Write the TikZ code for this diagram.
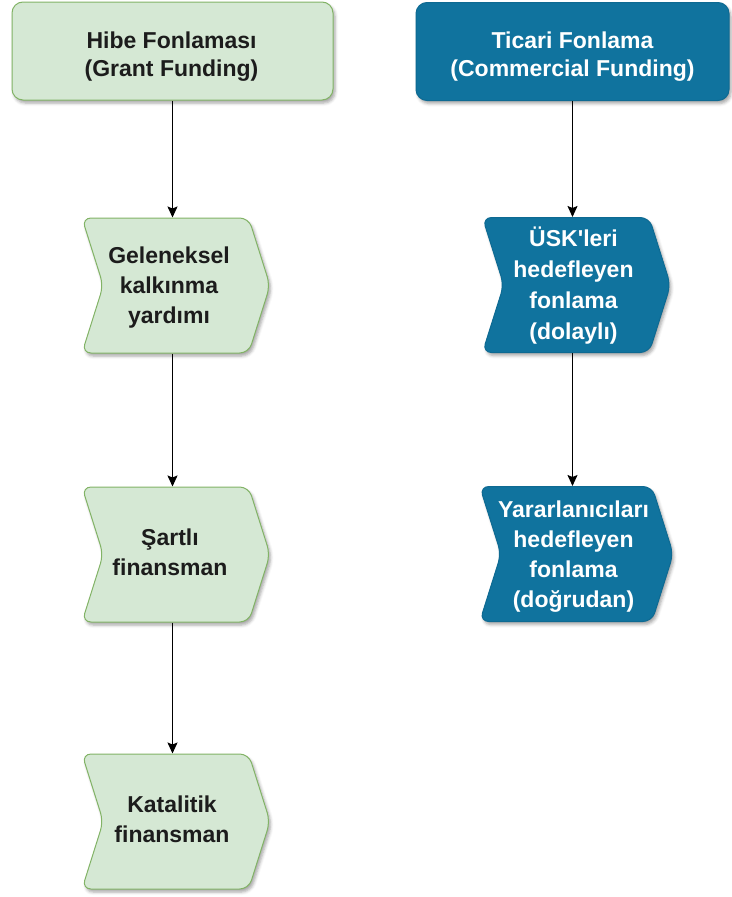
\documentclass[tikz,border=0pt]{standalone}
\usepackage{fontspec}
\setmainfont{Liberation Sans}[Ligatures=TeXOff]
\usetikzlibrary{shapes.symbols,arrows.meta,shadows.blur}

\definecolor{grantfill}{HTML}{D5E8D4}
\definecolor{grantline}{HTML}{82B366}
\definecolor{commfill}{HTML}{10739E}
\definecolor{commline}{HTML}{0E6A92}
\definecolor{darktext}{HTML}{1C1C1C}

% centred lines, moved by (#1,#2) without changing the box size
\newcommand\nudged[3]{\raisebox{#2}[\height][\depth]{\hspace*{#1}\begin{tabular}{@{}c@{}}#3\end{tabular}\hspace*{-#1}}}

\tikzset{
  softshadow/.style={blur shadow={shadow xshift=2pt, shadow yshift=-3pt,
      shadow blur radius=3pt, shadow opacity=35}},
  headbox/.style={rectangle, rounded corners=11pt, line width=1pt,
      minimum width=#1, minimum height=98pt, inner sep=0pt, softshadow,
      font=\bfseries\fontsize{23}{28}\selectfont},
  chevbox/.style={signal, signal to=east, signal from=west,
      signal pointer angle=145, rounded corners=9pt, line width=1pt,
      minimum width=188pt, minimum height=135pt, inner sep=0pt,
      softshadow, font=\bfseries\fontsize{23}{30}\selectfont},
  widelines/.style={font=\bfseries\fontsize{23}{31}\selectfont},
  grant/.style={fill=grantfill, draw=grantline, text=darktext},
  comm/.style={fill=commfill, draw=commline, text=white},
  flow/.style={draw=black, line width=1.3pt,
      -{Stealth[length=11pt, width=10pt, inset=2pt]}}
}

\begin{document}
\begin{tikzpicture}[x=1pt, y=-1pt]
  \useasboundingbox (0,0) rectangle (731,897);

  % grant funding column
  \node[headbox=321pt, grant] (hibe) at (172.5,51)
    {\nudged{-1pt}{-6pt}{Hibe Fonlaması\\(Grant Funding)}};
  \node[chevbox, grant] (gel) at (176,285.5)
    {\nudged{-7pt}{-2pt}{Geleneksel\\kalkınma\\yardımı}};
  \node[chevbox, grant] (sart) at (176,554.5)
    {\nudged{-6pt}{0pt}{Şartlı\\finansman}};
  \node[chevbox, grant] (kat) at (176,821.5)
    {\nudged{-4pt}{0pt}{Katalitik\\finansman}};

  % commercial funding column
  \node[headbox=313pt, comm] (ticari) at (572.5,51.5)
    {\nudged{0pt}{-5pt}{Ticari Fonlama\\(Commercial Funding)}};
  \node[chevbox, comm, widelines] (usk) at (576.5,285)
    {\nudged{-3pt}{-2pt}{ÜSK'leri\\hedefleyen\\fonlama\\(dolaylı)}};
  \node[chevbox, comm] (yar) at (576.5,554)
    {\nudged{-3pt}{-2pt}{Yararlanıcıları\\hedefleyen\\fonlama\\(doğrudan)}};

  % connectors
  \draw[flow] (hibe.south) -- (hibe.south |- gel.north);
  \draw[flow] (hibe.south |- gel.south) -- (hibe.south |- sart.north);
  \draw[flow] (hibe.south |- sart.south) -- (hibe.south |- kat.north);
  \draw[flow] (ticari.south) -- (ticari.south |- usk.north);
  \draw[flow] (ticari.south |- usk.south) -- (ticari.south |- yar.north);
\end{tikzpicture}
\end{document}
